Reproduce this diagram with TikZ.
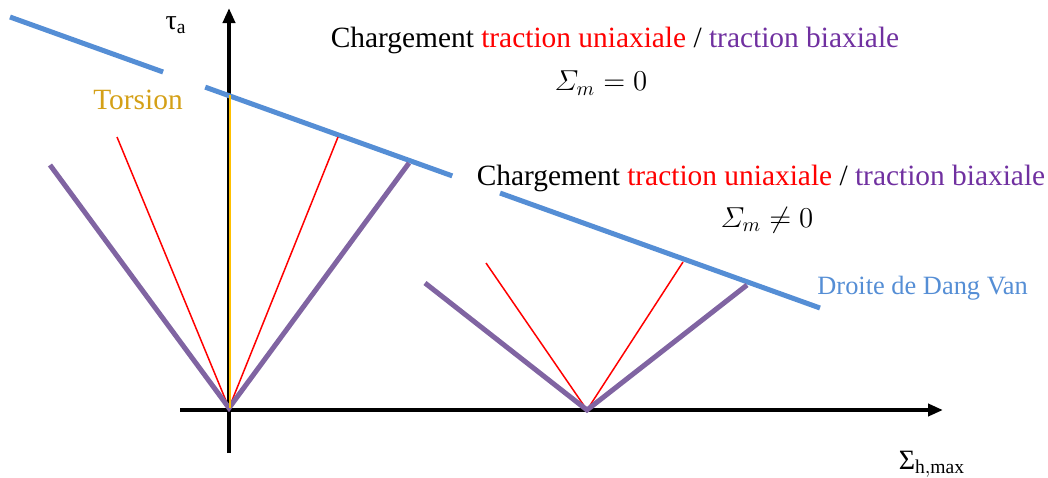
\documentclass[tikz,border=0pt]{standalone}
\usepackage{amsmath}
\usepackage{fontspec}
\setmainfont{Liberation Serif}
\usepackage{tikz}
\usetikzlibrary{calc, arrows.meta}

\definecolor{bleuDV}{HTML}{558ED5}
\definecolor{violetV}{HTML}{8064A2}
\definecolor{violetT}{HTML}{7030A0}
\definecolor{orT}{HTML}{D4A017}
\definecolor{orL}{HTML}{FFC000}

\begin{document}
\begin{tikzpicture}[x=0.5pt, y=-0.5pt,
    axe/.style={line width=2pt, -{Triangle[length=7.5pt,width=6pt]}},
    biax/.style={violetV, line width=2.5pt},
    uniax/.style={red, line width=0.75pt},
    droite/.style={bleuDV, line width=2.5pt},
    texte/.style={font=\fontsize{14.7}{17}\selectfont, inner sep=0pt}]
    \useasboundingbox (0,0) rectangle (1048,477);

    % axes
    \coordinate (O) at (229,410);
    \coordinate (Ybas) at (229,453);
    \coordinate (Yhaut) at (229,8);
    \coordinate (Xgauche) at (180,410);
    \coordinate (Xdroite) at (943,410);
    \draw[axe] (Ybas) -- (Yhaut);
    \draw[axe] (Xgauche) -- (Xdroite);
    \node[font=\fontsize{14}{16}\selectfont] (tau) at (176,25) {$\text{τ}_{\mathrm{a}}$};
    \node[font=\fontsize{14}{16}\selectfont] (sigma) at (932,464) {$\text{Σ}_{\mathrm{h,max}}$};

    % droite de Dang Van
    \coordinate (D1) at (10,17);
    \coordinate (D2) at (820,308);
    \draw[droite] (D1) -- ($(D1)!0.189!(D2)$);
    \draw[droite] ($(D1)!0.241!(D2)$) -- ($(D1)!0.546!(D2)$);
    \draw[droite] ($(D1)!0.605!(D2)$) -- (D2);
    \node[texte, bleuDV, anchor=west, font=\fontsize{13.2}{15}\selectfont] (dv) at (817,288) {Droite de Dang Van};

    % Sigma_m = 0
    \coordinate (V1) at (229,408);
    \coordinate (B1g) at (50,165);
    \coordinate (B1d) at (409,163);
    \coordinate (U1g) at (117,137);
    \coordinate (U1d) at (338,137);
    \coordinate (T1) at (230,95);
    \draw[uniax] (U1g) -- (V1) -- (U1d);
    \draw[biax, line join=miter] (B1g) -- (V1) -- (B1d);
    \draw[orL, line width=1pt] (T1) -- ($(V1)+(1,0)$);
    \node[texte, orT] (torsion) at (138,100) {Torsion};
    \node[texte] (titre1) at (615,40)
        {Chargement \textcolor{red}{traction uniaxiale} / \textcolor{violetT}{traction biaxiale}};
    \node[texte] (sm1) at (601,83) {$\varSigma_m = 0$};

    % Sigma_m != 0
    \coordinate (V2) at (587,410);
    \coordinate (B2g) at (425,283);
    \coordinate (B2d) at (747,285);
    \coordinate (U2g) at (486,263);
    \coordinate (U2d) at (683,262);
    \draw[uniax] (U2g) -- (V2) -- (U2d);
    \draw[biax, line join=miter] (B2g) -- (V2) -- (B2d);
    \node[texte] (titre2) at (761,178)
        {Chargement \textcolor{red}{traction uniaxiale} / \textcolor{violetT}{traction biaxiale}};
    \node[texte] (sm2) at (767,220) {$\varSigma_m \neq 0$};
\end{tikzpicture}
\end{document}
